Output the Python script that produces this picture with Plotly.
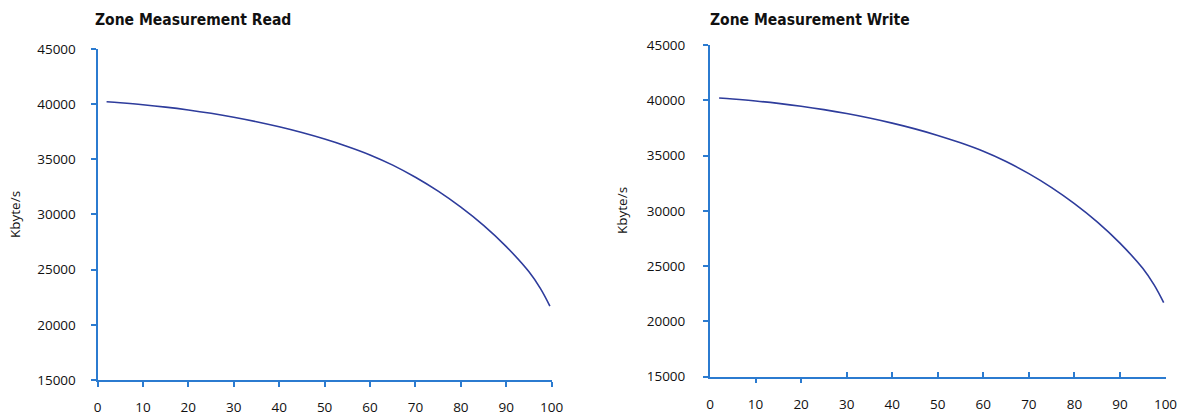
import plotly.graph_objects as go

# ---- data ----
read_pct = [2, 5, 10, 15, 20, 25, 30, 35, 40, 45, 50, 55, 60, 65, 70, 75, 80, 85, 90, 95, 97.5, 99.6]
read_kbs = [40200, 40110, 39935, 39720, 39460, 39155, 38800, 38395, 37935, 37415, 36825,
            36155, 35390, 34465, 33365, 32105, 30655, 29005, 27080, 24800, 23300, 21700]

write_pct = [2, 5, 10, 15, 20, 25, 30, 35, 40, 45, 50, 55, 60, 65, 70, 75, 80, 85, 90, 95, 97.5, 99.6]
write_kbs = [40200, 40110, 39935, 39720, 39460, 39155, 38800, 38395, 37935, 37415, 36825,
             36155, 35390, 34465, 33365, 32105, 30655, 29005, 27080, 24800, 23300, 21700]

x_ticks = [0, 10, 20, 30, 40, 50, 60, 70, 80, 90, 100]
y_ticks = [15000, 20000, 25000, 30000, 35000, 40000, 45000]
titles = ["Zone Measurement Read", "Zone Measurement Write"]
y_title = "Kbyte/s"

W, H = 1186, 418
AX = "#2b7bd0"
LINE = "#2e3c9c"
TICKFONT = dict(family="Open Sans, Noto Sans, sans-serif", size=13.5, color="#111111")
TITLEFONT = dict(family="Liberation Sans Narrow, DejaVu Sans Condensed, Arial Narrow, sans-serif",
                 size=15.5, color="#111111")

fig = go.Figure()
fig.add_trace(go.Scatter(x=read_pct, y=read_kbs, mode="lines", line=dict(color=LINE, width=1.6, shape="spline"),
                         xaxis="x", yaxis="y", showlegend=False, hoverinfo="skip"))
fig.add_trace(go.Scatter(x=write_pct, y=write_kbs, mode="lines", line=dict(color=LINE, width=1.6, shape="spline"),
                         xaxis="x2", yaxis="y2", showlegend=False, hoverinfo="skip"))


def px_x(p):
    return p / W


def px_y(p):
    return 1 - p / H


common_x = dict(range=[0, 100], showgrid=False, zeroline=False, showline=True, linecolor=AX, linewidth=2,
                tickmode="array", tickvals=x_ticks, ticktext=[str(v) for v in x_ticks],
                tickfont=TICKFONT, tickcolor=AX, tickwidth=1.5, fixedrange=True, automargin=False)
common_y = dict(range=[15000, 45000], showgrid=False, zeroline=False, showline=True, linecolor=AX, linewidth=2,
                tickmode="array", tickvals=y_ticks, ticktext=[str(v) for v in y_ticks],
                tickfont=TICKFONT, tickcolor=AX, tickwidth=1.5,
                ticks="outside", ticklen=5, fixedrange=True, automargin=False)

fig.update_layout(
    width=W, height=H, margin=dict(l=0, r=0, t=0, b=0, pad=0), autosize=False,
    paper_bgcolor="white", plot_bgcolor="white",
    xaxis=dict(**common_x, domain=[px_x(97.5), px_x(551.7)], anchor="y", ticks="outside", ticklen=5,
               ticklabelstandoff=9),
    yaxis=dict(**common_y, domain=[px_y(380), px_y(48.8)], anchor="x", ticklabelstandoff=12),
    xaxis2=dict(**common_x, domain=[px_x(710), px_x(1165.5)], anchor="y2", ticks="", ticklabelstandoff=14),
    yaxis2=dict(**common_y, domain=[px_y(376.7), px_y(45)], anchor="x2", ticklabelstandoff=15),
    # overlay axes giving the right chart its mixed tick directions
    xaxis3=dict(range=[0, 100], overlaying="x2", anchor="y2", showgrid=False, zeroline=False, showline=False,
                tickmode="array", tickvals=x_ticks[3:], ticks="inside", ticklen=5, tickcolor=AX, tickwidth=1.5,
                showticklabels=False, fixedrange=True),
    xaxis4=dict(range=[0, 100], overlaying="x2", anchor="y2", showgrid=False, zeroline=False, showline=False,
                tickmode="array", tickvals=x_ticks[1:3], ticks="outside", ticklen=5, tickcolor=AX, tickwidth=1.5,
                showticklabels=False, fixedrange=True),
    annotations=[
        dict(text="<b>" + titles[0] + "</b>", x=px_x(93), y=px_y(20), xref="paper", yref="paper",
             xanchor="left", yanchor="middle", showarrow=False, font=TITLEFONT),
        dict(text="<b>" + titles[1] + "</b>", x=px_x(708), y=px_y(20), xref="paper", yref="paper",
             xanchor="left", yanchor="middle", showarrow=False, font=TITLEFONT),
        dict(text=y_title, x=px_x(15), y=px_y(215), xref="paper", yref="paper", textangle=-90,
             xanchor="center", yanchor="middle", showarrow=False, font=TICKFONT),
        dict(text=y_title, x=px_x(622), y=px_y(211), xref="paper", yref="paper", textangle=-90,
             xanchor="center", yanchor="middle", showarrow=False, font=TICKFONT),
    ],
)

# dummy traces so overlay axes render
fig.add_trace(go.Scatter(x=[None], y=[None], xaxis="x3", yaxis="y2", showlegend=False, hoverinfo="skip"))
fig.add_trace(go.Scatter(x=[None], y=[None], xaxis="x4", yaxis="y2", showlegend=False, hoverinfo="skip"))

fig.write_html("out.html", config={"displayModeBar": False},
               post_script="document.body.style.margin='0';document.body.style.overflow='hidden';")
